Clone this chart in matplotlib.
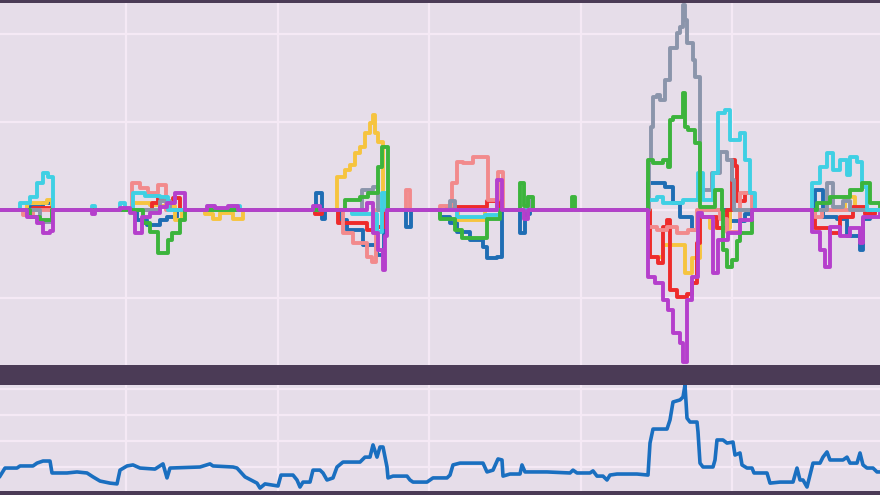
import matplotlib
matplotlib.use("Agg")
import matplotlib.pyplot as plt
import numpy as np

# ---- data: top panel step series, (time, value) breakpoints (value holds until next time) ----
cyan = [(20,0.08),(30,0.15),(37,0.31),(43,0.42),(48,0.38),(53,0),
        (92,0.05),(95,0),
        (120,0.08),(125,0),(133,0.19),(145,0.16),(160,0.15),(168,0),
        (208,0.05),(214,0),(232,0.05),(240,0),
        (352,-0.05),(377,-0.25),(382,0.19),(386,0),
        (457,-0.08),(485,-0.06),(500,0),
        (648,0.11),(657,0.15),(663,0.08),(683,0.11),(698,0.42),(703,0.11),(713,0.42),(718,1.10),
        (725,1.14),(730,0.80),(740,0.88),(745,0.57),(750,0.19),(755,0),
        (812,0.31),(820,0.49),(827,0.65),(833,0.45),(840,0.57),(847,0.40),(850,0.60),(857,0.55),
        (862,0.26),(867,0)]
yellow = [(27,0.08),(47,0.11),(52,0),
          (133,0.08),(150,0.06),(160,0.05),(175,-0.11),(182,0),
          (205,-0.05),(213,-0.1),(220,-0.03),(233,-0.1),(243,0),
          (337,0.38),(345,0.45),(350,0.51),(355,0.65),(360,0.72),(365,0.88),(370,0.99),(373,1.08),
          (375,0.88),(378,0.77),(383,0),
          (458,-0.11),(485,0),
          (650,-0.53),(663,-0.40),(685,-0.72),(692,-0.55),(700,-0.08),(710,-0.2),(730,0),
          (845,0.15),(855,0)]
green = [(30,-0.08),(40,-0.11),(52,0),
         (143,-0.15),(150,-0.25),(158,-0.49),(168,-0.34),(172,-0.26),(180,-0.11),(185,0),
         (345,0.11),(360,0.15),(368,0.19),(378,0.49),(382,0.72),(388,0),
         (440,-0.1),(455,-0.23),(462,-0.32),(487,-0.1),(500,0),
         (520,0.31),(524,0.05),(528,0.15),(533,0),
         (572,0.15),(575,0),
         (648,0.57),(653,0.53),(663,0.57),(668,0.49),(670,1.02),(673,1.06),(683,1.33),(685,0.94),
         (688,0.91),(695,0.76),(700,0.03),(715,0.23),(722,0.0),(723,-0.45),(727,-0.65),(732,-0.57),
         (737,-0.35),(740,-0.26),(752,0),
         (817,0.08),(830,0.15),(850,0.23),(862,0.31),(870,0.08),(880,0.05)]
red = [(33,0.02),(50,0),
       (137,0.0),(152,0.08),(158,0.14),(167,0.08),(173,0.14),(180,0),
       (315,-0.05),(322,0),
       (338,-0.15),(367,-0.23),(377,-0.19),(385,0),
       (447,0.03),(487,0.1),(500,0),
       (650,-0.53),(658,-0.60),(663,-0.19),(667,-0.11),(670,-0.91),(677,-0.99),(687,-0.95),
       (692,-0.83),(697,-0.38),(700,-0.08),(717,-0.2),(727,0),(732,0.57),(735,0.50),(737,0.1),
       (745,0.19),(753,0),
       (815,-0.2),(830,-0.26),(840,-0.08),(853,0.03),(865,-0.05),(875,0)]
blue = [(30,0.03),(43,0.08),(52,0),
        (137,-0.11),(147,-0.17),(160,-0.11),(167,-0.08),(177,0),
        (316,0.19),(322,-0.1),(325,0),
        (340,-0.11),(347,-0.23),(363,-0.40),(377,-0.51),(384,0),
        (406,-0.19),(411,0),
        (440,-0.08),(450,-0.15),(457,-0.25),(470,-0.34),(483,-0.42),(487,-0.55),(497,-0.53),(502,0),
        (520,-0.26),(525,-0.05),(530,0),
        (648,0.31),(665,0.26),(673,0.08),(680,-0.08),(692,-0.23),(698,0),(730,-0.12),(745,-0.05),(752,0),
        (815,0.23),(823,-0.08),(837,-0.1),(847,-0.3),(860,-0.45),(863,-0.1),(870,0)]
pink = [(23,-0.06),(33,0),
        (132,0.31),(140,0.25),(148,0.19),(158,0.28),(166,0),
        (343,-0.26),(353,-0.38),(367,-0.53),(372,-0.59),(376,0),
        (406,0.23),(410,0),
        (440,0.05),(452,0.31),(457,0.55),(463,0.53),(473,0.60),(488,0.11),(498,0.43),(503,0),
        (648,-0.19),(657,-0.23),(667,-0.19),(677,-0.26),(688,-0.23),(697,0),(720,-0.1),(727,-0.25),
        (740,0.19),(752,0),
        (815,-0.08),(822,0)]
grey = [(40,-0.14),(52,0),
        (160,0.1),(170,0),
        (362,0.23),(373,0.26),(378,0),
        (450,0.1),(455,0),
        (528,0.15),(532,0),
        (649,0.57),(651,0.94),(653,1.28),(657,1.31),(660,1.25),(665,1.48),(670,1.84),(677,2.01),
        (680,2.08),(683,2.33),(685,2.16),(687,1.90),(693,1.70),(695,1.51),(700,0.23),(712,0.42),
        (720,0.66),(727,0.57),(732,0.34),(734,0),
        (827,0.31),(833,0.03),(843,0.1),(850,0)]
purple = [(27,-0.08),(37,-0.15),(43,-0.26),(50,-0.24),(53,0),
          (92,-0.05),(95,0),
          (120,0.02),(130,-0.03),(135,-0.26),(142,-0.08),(150,-0.03),(160,0.03),(167,0.08),(175,0.19),(185,0),
          (207,0.05),(215,0.02),(228,0.05),(238,0),
          (313,0.05),(320,0),
          (367,0.08),(373,-0.26),(378,-0.45),(383,-0.68),(385,-0.3),(387,0),
          (497,0.34),(502,0),
          (524,-0.1),(528,0),
          (648,-0.76),(655,-0.83),(663,-1.02),(668,-1.14),(673,-1.40),(680,-1.51),(683,-1.73),(687,-1.02),
          (692,-0.76),(698,-0.03),(702,-0.08),(713,-0.72),(718,-0.34),(728,-0.26),(740,-0.11),(752,0),
          (812,-0.25),(820,-0.45),(825,-0.65),(830,-0.19),(840,-0.3),(850,-0.2),(860,-0.38),(863,-0.08),(880,-0.05)]

# ---- data: bottom panel line (time, value) ----
bottom_t = [0,5,17,20,33,37,43,50,52,67,77,87,93,100,110,117,120,127,133,140,155,163,167,170,200,210,213,
            233,237,245,257,260,265,278,281,293,297,300,303,310,313,320,323,327,333,337,343,360,365,370,
            373,377,380,383,387,388,393,407,410,413,427,433,447,450,453,460,483,487,493,498,502,503,510,
            520,522,525,547,570,573,577,590,593,597,603,607,610,617,637,648,650,653,667,670,673,680,683,
            685,687,690,697,698,700,703,713,715,717,723,727,733,735,740,742,747,752,754,767,770,780,793,
            797,800,803,807,810,813,820,823,827,830,843,847,850,857,860,863,867,873,877,880]
bottom_v = [0.65,0.96,0.96,1.04,1.04,1.15,1.23,1.23,0.77,0.77,0.81,0.77,0.62,0.46,0.38,0.35,0.88,1.04,
            1.08,0.96,0.92,1.12,0.58,0.96,1.00,1.12,1.04,1.00,0.96,0.62,0.38,0.19,0.35,0.27,0.69,0.69,
            0.50,0.23,0.42,0.42,0.88,0.88,0.77,0.50,0.58,1.00,1.19,1.19,1.38,1.38,1.85,1.38,1.77,1.77,
            1.00,0.58,0.65,0.65,0.50,0.42,0.42,0.58,0.58,0.69,1.08,1.15,1.15,0.81,0.88,1.31,1.27,0.65,
            0.73,0.73,1.08,0.81,0.81,0.77,0.88,0.77,0.77,0.85,0.65,0.65,0.50,0.69,0.73,0.73,0.69,1.92,
            2.46,2.46,2.81,3.50,3.58,3.69,4.15,2.88,2.73,2.73,2.35,1.15,1.00,1.00,1.27,2.04,2.04,1.92,
            1.96,1.46,1.54,1.08,0.96,0.96,0.77,0.77,0.38,0.42,0.42,0.96,0.50,0.50,0.23,0.69,1.15,1.15,
            1.38,1.58,1.27,1.27,1.38,1.15,1.15,1.54,1.08,0.96,0.96,0.81,0.81]

top_series = [("blue", blue, "#1f6db4"), ("yellow", yellow, "#f6c43f"), ("red", red, "#ee2b2b"),
              ("pink", pink, "#f28a8c"), ("grey", grey, "#8b95ab"), ("cyan", cyan, "#3fd0e4"),
              ("green", green, "#3cb43c"), ("purple", purple, "#b53fcc")]

BG = "#e6dde9"
BAND = "#4b3b56"
GRID = "#f5e9f5"
X0, X1 = 0, 880
XGRID = np.arange(126, 880, 151.5)

fig = plt.figure(figsize=(8.8, 4.95), dpi=100, facecolor=BAND)
ax_top = fig.add_axes([0, 1 - 365/495, 1, 362/495])
ax_bot = fig.add_axes([0, 1 - 491/495, 1, 106/495])

for ax in (ax_top, ax_bot):
    ax.set_facecolor(BG)
    for s in ax.spines.values():
        s.set_visible(False)
    ax.set_xlim(X0, X1)
    ax.set_xticks(XGRID)
    ax.tick_params(length=0, labelbottom=False, labelleft=False)
    ax.grid(True, color=GRID, linewidth=1.6)
    ax.set_axisbelow(True)

ax_top.set_ylim(-1.761, 2.352)
ax_top.set_yticks([-1, 0, 1, 2])
for name, pts, col in top_series:
    t = [X0] + [p[0] for p in pts] + [X1]
    v = [0.0] + [p[1] for p in pts] + [pts[-1][1]]
    ax_top.plot(t, v, drawstyle="steps-post", color=col, linewidth=2.8, solid_joinstyle="round")

ax_bot.set_ylim(0.077, 4.154)
ax_bot.set_yticks([1, 2, 3, 4])
ax_bot.plot(bottom_t, bottom_v, color="#1a6fc0", linewidth=2.6, solid_joinstyle="round")

fig.savefig("out.png", dpi=100, facecolor=BAND)
